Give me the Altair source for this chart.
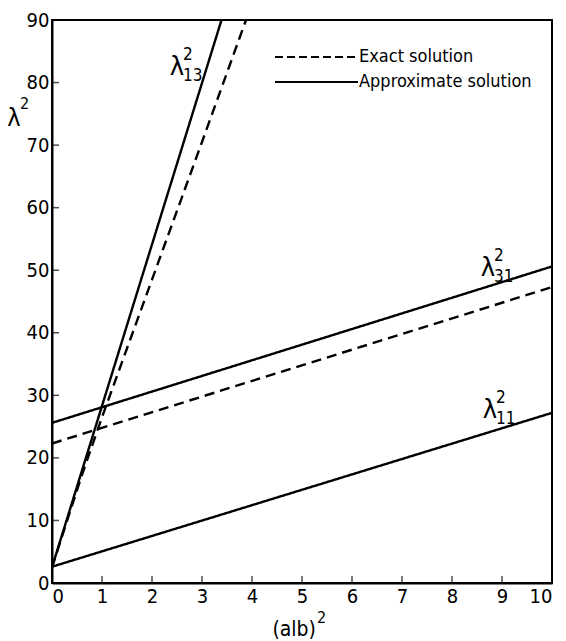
import altair as alt
import pandas as pd

FONT = "Liberation Sans Narrow, DejaVu Sans Condensed, Liberation Sans, sans-serif"

# Tick values on both axes
x_ticks = [0, 1, 2, 3, 4, 5, 6, 7, 8, 9, 10]
y_ticks = [0, 10, 20, 30, 40, 50, 60, 70, 80, 90]

# Eigenvalue curves: lambda^2 against (a/b)^2
l13_exact_x = [0.0, 0.6, 1.0, 2.0, 3.0, 3.88]
l13_exact_y = [2.5, 17.3, 26.5, 48.5, 70.5, 90.0]
l13_approx_x = [0.0, 3.39]
l13_approx_y = [2.5, 90.0]
l31_exact_x = [0.0, 10.0]
l31_exact_y = [22.3, 47.3]
l31_approx_x = [0.0, 10.0]
l31_approx_y = [25.6, 50.6]
l11_approx_x = [0.0, 10.0]
l11_approx_y = [2.6, 27.2]

# Curve labels (subscripts) and their anchor points in data units
label_sub = ["13", "31", "11"]
label_x = [2.5, 8.72, 8.76]
label_y = [82.5, 50.4, 27.7]

rows = []
for name, kind, xs, ys in [
    ("l13e", "Exact solution", l13_exact_x, l13_exact_y),
    ("l13a", "Approximate solution", l13_approx_x, l13_approx_y),
    ("l31e", "Exact solution", l31_exact_x, l31_exact_y),
    ("l31a", "Approximate solution", l31_approx_x, l31_approx_y),
    ("l11a", "Approximate solution", l11_approx_x, l11_approx_y),
]:
    for i, (xv, yv) in enumerate(zip(xs, ys)):
        rows.append({"curve": name, "kind": kind, "x": xv, "y": yv, "order": i})
curves = pd.DataFrame(rows)

labels = pd.DataFrame({"sub": label_sub, "x": label_x, "y": label_y})

W, H = 500, 563
xs = alt.Scale(domain=[0, 10], nice=False, zero=False)
ys = alt.Scale(domain=[0, 90], nice=False, zero=False)

x_axis = alt.Axis(values=x_ticks, ticks=False, labelFontSize=20, labelFont=FONT,
                  labelColor="black", labelPadding=3, domainColor="black",
                  domainWidth=2, grid=False, title=None)
y_axis = alt.Axis(values=y_ticks, ticks=False, labelFontSize=20, labelFont=FONT,
                  labelColor="black", labelPadding=3, domainColor="black",
                  domainWidth=2, grid=False, title=None)

lines = alt.Chart(curves).mark_line(color="black", strokeWidth=2.4, clip=True).encode(
    x=alt.X("x:Q", scale=xs, axis=x_axis),
    y=alt.Y("y:Q", scale=ys, axis=y_axis),
    detail="curve:N",
    order="order:Q",
    strokeDash=alt.StrokeDash(
        "kind:N",
        scale=alt.Scale(domain=["Exact solution", "Approximate solution"],
                        range=[[10, 6], [1, 0]]),
        legend=None,
    ),
)

# Inward tick marks
xtick_df = pd.DataFrame({"t": x_ticks})
ytick_df = pd.DataFrame({"t": y_ticks})
xticks = alt.Chart(xtick_df).mark_tick(color="black", size=7, thickness=1.5, yOffset=-3.5).encode(
    x=alt.X("t:Q", scale=xs), y=alt.value(H)
)
yticks = alt.Chart(ytick_df).mark_tick(color="black", size=7, thickness=1.5, xOffset=3.5,
                                       orient="horizontal").encode(
    y=alt.Y("t:Q", scale=ys), x=alt.value(0)
)

lam = alt.Chart(labels).mark_text(font=FONT, fontSize=27, color="black",
                                  align="center", baseline="middle").encode(
    x=alt.X("x:Q", scale=xs), y=alt.Y("y:Q", scale=ys), text=alt.value("λ")
)
sup = alt.Chart(labels).mark_text(font=FONT, fontSize=17, color="black",
                                  align="left", baseline="middle", dx=6, dy=-12).encode(
    x=alt.X("x:Q", scale=xs), y=alt.Y("y:Q", scale=ys), text=alt.value("2")
)
sub = alt.Chart(labels).mark_text(font=FONT, fontSize=17, color="black",
                                  align="left", baseline="middle", dx=6, dy=9).encode(
    x=alt.X("x:Q", scale=xs), y=alt.Y("y:Q", scale=ys), text="sub:N"
)

# Axis titles with raised exponents
title_df = pd.DataFrame({"base": ["(alb)", "λ"], "exp": ["2", "2"]})
x_title = alt.Chart(title_df.iloc[[0]]).mark_text(
    font=FONT, fontSize=21, color="black", align="right", baseline="middle").encode(
    x=alt.value(264), y=alt.value(610), text="base:N")
x_title_exp = alt.Chart(title_df.iloc[[0]]).mark_text(
    font=FONT, fontSize=16, color="black", align="left", baseline="middle").encode(
    x=alt.value(265), y=alt.value(598), text="exp:N")
y_title = alt.Chart(title_df.iloc[[1]]).mark_text(
    font=FONT, fontSize=25, color="black", align="center", baseline="middle").encode(
    x=alt.value(-38), y=alt.value(98), text="base:N")
y_title_exp = alt.Chart(title_df.iloc[[1]]).mark_text(
    font=FONT, fontSize=16, color="black", align="left", baseline="middle").encode(
    x=alt.value(-32), y=alt.value(84), text="exp:N")

# Legend drawn as two line samples with their labels
legend_kinds = ["Exact solution", "Approximate solution"]
leg_dash = alt.Chart(pd.DataFrame({"k": [legend_kinds[0]]})).mark_rule(
    color="black", strokeWidth=2.2, strokeDash=[8, 4]).encode(
    x=alt.value(223), x2=alt.value(306), y=alt.value(37))
leg_solid = alt.Chart(pd.DataFrame({"k": [legend_kinds[1]]})).mark_rule(
    color="black", strokeWidth=2.2).encode(
    x=alt.value(223), x2=alt.value(306), y=alt.value(62))
leg_text1 = alt.Chart(pd.DataFrame({"k": [legend_kinds[0]]})).mark_text(
    font=FONT, fontSize=18, color="black", align="left", baseline="middle").encode(
    x=alt.value(307), y=alt.value(37), text="k:N")
leg_text2 = alt.Chart(pd.DataFrame({"k": [legend_kinds[1]]})).mark_text(
    font=FONT, fontSize=18, color="black", align="left", baseline="middle").encode(
    x=alt.value(307), y=alt.value(62), text="k:N")

chart = alt.layer(
    lines, xticks, yticks, lam, sup, sub, x_title, x_title_exp, y_title, y_title_exp,
    leg_dash, leg_solid, leg_text1, leg_text2
).properties(
    width=W, height=H,
    autosize=alt.AutoSizeParams(type="none"),
    padding={"left": 52, "top": 20, "right": 14, "bottom": 58},
    background="white",
).configure_view(stroke="black", strokeWidth=2)

chart.save("out.html", embed_options={"renderer": "svg", "actions": False})
